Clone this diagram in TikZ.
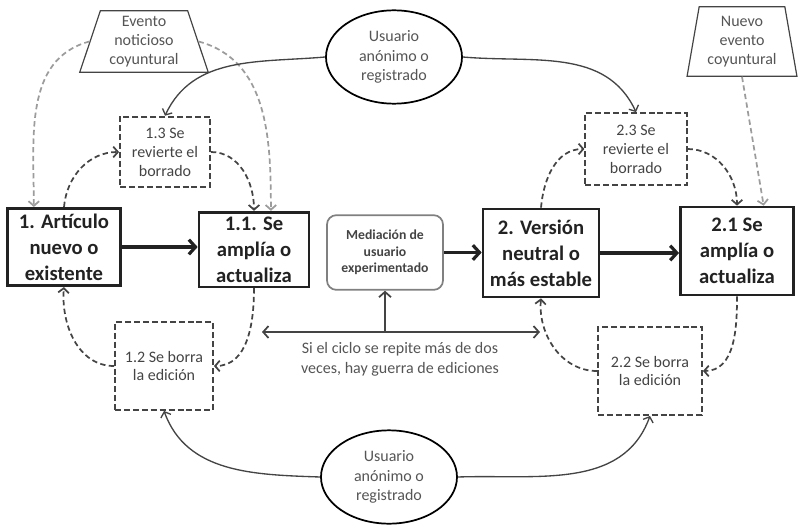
\documentclass[tikz,border=0pt]{standalone}
\usepackage{fontspec}
\setmainfont{Carlito}
\usepackage{tikz}
\usetikzlibrary{shapes,arrows,arrows.meta,calc,positioning}
\definecolor{ink}{HTML}{222222}
\definecolor{dgray}{HTML}{444444}
\definecolor{lgray}{HTML}{9C9C9C}
\definecolor{tgray}{HTML}{555555}
\tikzstyle{mainbox}=[rectangle, draw=ink, line width=2pt, align=center, text=ink, inner sep=2pt,
  font=\fontsize{15.5}{19.5}\selectfont\bfseries, minimum width=85pt]
\tikzstyle{stepbox}=[rectangle, draw=dgray, line width=1.4pt, dash pattern=on 4.5pt off 2.2pt,
  align=center, text=dgray, inner sep=2pt, font=\fontsize{12}{14.2}\selectfont]
\tikzstyle{usrnode}=[ellipse, draw=black, line width=1.3pt, align=center, text=tgray, inner sep=0pt,
  font=\fontsize{12}{14.5}\selectfont, minimum width=102pt, minimum height=70pt]
\tikzstyle{evtnode}=[trapezium, trapezium stretches=true, draw=dgray, line width=0.9pt, align=center,
  text=tgray, inner sep=0pt, font=\fontsize{12}{14}\selectfont]
\tikzstyle{thickarr}=[-{Straight Barb[length=5pt,width=11pt]}, line width=2.4pt, draw=ink]
\tikzstyle{cyclearr}=[-{Straight Barb[length=3.5pt,width=8pt]}, draw=dgray, line width=1.3pt,
  dash pattern=on 4pt off 2.5pt]
\tikzstyle{newsarr}=[-{Straight Barb[length=3.5pt,width=8pt]}, draw=lgray, line width=1.3pt,
  dash pattern=on 4pt off 2.5pt]
\tikzstyle{userarr}=[-{Straight Barb[length=3.5pt,width=8pt]}, draw=dgray, line width=1pt]
\tikzstyle{medarr}=[-{Straight Barb[length=4pt,width=9pt]}, draw=dgray, line width=1.3pt]

\begin{document}
\begin{tikzpicture}[x=0.75pt, y=-0.75pt]
  \useasboundingbox (0,0) rectangle (798,524);
  % cycle 1
  \node[mainbox, minimum height=58pt] (art1) at (64,247) {1. Artículo\\nuevo o\\existente};
  \node[mainbox, minimum height=56pt, minimum width=82.5pt] (amp1) at (254,249.5) {1.1. Se\\amplía o\\actualiza};
  \node[stepbox, minimum width=67.5pt, minimum height=53pt] (rev1) at (165,152) {1.3 Se\\revierte el\\borrado};
  \node[stepbox, minimum width=73.5pt, minimum height=66pt] (bor1) at (164,366) {1.2 Se borra\\la edición};
  \node[evtnode, trapezium left angle=72, trapezium right angle=72, minimum width=97pt, minimum height=46pt]
    (evt1) at (144,41.5) {Evento\\noticioso\\coyuntural};
  % cycle 2
  \node[mainbox, minimum height=66pt, minimum width=87pt] (ver2) at (541,253) {2. Versión\\neutral o\\más estable};
  \node[mainbox, minimum height=66pt] (amp2) at (737,251) {2.1 Se\\amplía o\\actualiza};
  \node[stepbox, minimum width=76pt, minimum height=54pt] (rev2) at (636,149) {2.3 Se\\revierte el\\borrado};
  \node[stepbox, minimum width=78pt, minimum height=66pt] (bor2) at (650,371) {2.2 Se borra\\la edición};
  \node[evtnode, trapezium left angle=79, trapezium right angle=79, minimum width=82.5pt, minimum height=52pt]
    (evt2) at (742,41.5) {Nuevo\\evento\\coyuntural};
  % users and mediation
  \node[usrnode] (usr1) at (394,57) {Usuario\\anónimo o\\registrado};
  \node[usrnode] (usr2) at (389,477) {Usuario\\anónimo o\\registrado};
  \node[rectangle, rounded corners=7pt, draw=gray, line width=1.3pt, align=center, text=dgray,
    font=\fontsize{10.3}{12.4}\selectfont\bfseries, minimum width=87pt, minimum height=56pt]
    (med) at (385,252.5) {Mediación de\\usuario\\experimentado};
  % main flow
  \draw[thickarr] (art1.east) -- (amp1.west |- art1.east);
  \draw[thickarr] (med.east) -- (ver2.west |- med.east);
  \draw[thickarr] (ver2.east) -- (amp2.west |- ver2.east);
  % cycles
  \draw[cyclearr] (art1.north) to[out=85,in=180] (rev1.west);
  \draw[cyclearr] (rev1.east) to[out=0,in=90] (amp1.north);
  \draw[cyclearr] (amp1.south) to[out=-90,in=0] (bor1.east);
  \draw[cyclearr] (bor1.west) to[out=180,in=-95] (art1.south);
  \draw[cyclearr] (ver2.north) to[out=85,in=180] (rev2.west);
  \draw[cyclearr] (rev2.east) to[out=0,in=90] (amp2.north);
  \draw[cyclearr] (amp2.south) to[out=-90,in=0] (bor2.east);
  \draw[cyclearr] (bor2.west) to[out=180,in=-95] (ver2.south);
  % news events
  \draw[newsarr] (evt1.left side) to[out=195,in=90] ($(art1.north west)!0.24!(art1.north east)$);
  \draw[newsarr] (evt1.right side) to[out=-15,in=90] ($(amp1.north west)!0.65!(amp1.north east)$);
  \draw[newsarr] (evt2.bottom side) -- ($(amp2.north west)!0.73!(amp2.north east)$);
  % users
  \draw[userarr] (usr1.west) to[out=185,in=65] (rev1.north);
  \draw[userarr] (usr1.east) to[out=-5,in=115] (rev2.north);
  \draw[userarr] (usr2.west) to[out=178,in=-70] (bor1.south);
  \draw[userarr] (usr2.east) to[out=2,in=-110] (bor2.south);
  % edit war
  \coordinate (gl) at (262,332);
  \coordinate (gr) at (540,332);
  \draw[medarr, {Straight Barb[length=4pt,width=9pt]}-{Straight Barb[length=4pt,width=9pt]}] (gl) -- (gr);
  \draw[medarr] (med.south |- gl) -- (med.south);
  \node[text=tgray, align=center, font=\fontsize{12}{15}\selectfont] (guerra) at (400,359)
    {Si el ciclo se repite más de dos\\veces, hay guerra de ediciones};
\end{tikzpicture}
\end{document}
